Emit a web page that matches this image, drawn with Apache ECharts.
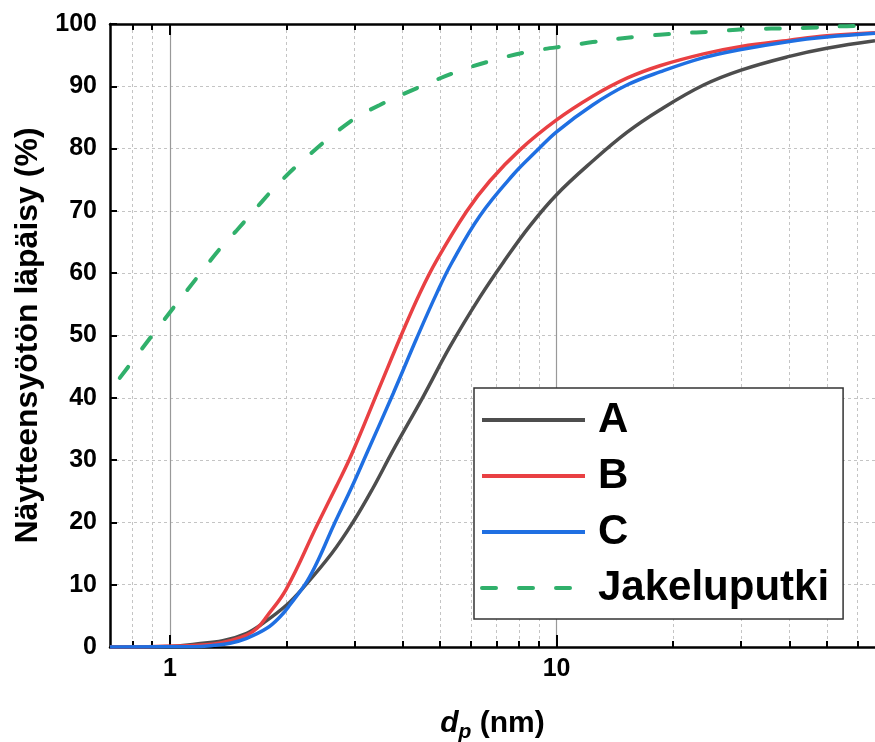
<!DOCTYPE html>
<html>
<head>
<meta charset="utf-8">
<script src="https://cdn.jsdelivr.net/npm/echarts@6/dist/echarts.min.js"></script>
<style>
  html, body { margin: 0; padding: 0; background: #fff; }
  #chart { width: 875px; height: 742px; }
</style>
</head>
<body>
<div id="chart"></div>
<script>
// Penetration curves: particle diameter d_p (nm) vs. sample-inlet penetration (%)
const seriesNames = ['A', 'B', 'C', 'Jakeluputki'];

const dpA   = [0.7, 1.0, 1.17, 1.37, 1.58, 1.74, 2.0, 2.21, 2.62, 2.98, 3.33, 3.78, 4.52, 5.3, 6.34, 7.35, 8.53, 10, 12.4, 15.2, 18.5, 24, 30, 40, 50, 66.6];
const passA = [0, 0.1, 0.5, 1.0, 2.2, 3.8, 6.7, 9.5, 15.0, 20.1, 25.2, 31.6, 40.2, 48.2, 56.2, 62.1, 67.6, 72.6, 78.0, 82.6, 86.2, 90.2, 92.6, 94.8, 96.1, 97.3];

const dpB   = [0.7, 1.06, 1.3, 1.43, 1.58, 1.68, 1.78, 2.0, 2.4, 2.7, 2.95, 3.49, 4.0, 4.43, 4.9, 5.85, 6.72, 8.04, 10, 12.4, 15.2, 18.5, 24, 30, 40, 50, 66.6];
const passB = [0, 0.15, 0.5, 1.0, 1.9, 3.0, 4.9, 9.3, 19.5, 25.9, 30.9, 41.8, 50.6, 56.8, 62.1, 69.9, 74.8, 79.8, 84.6, 88.4, 91.3, 93.3, 95.2, 96.4, 97.4, 98.1, 98.6];

const dpC   = [0.7, 1.15, 1.3, 1.43, 1.58, 1.78, 1.93, 2.04, 2.26, 2.42, 2.65, 2.95, 3.23, 3.78, 4.35, 4.9, 5.35, 6.33, 7.72, 8.87, 10, 12.4, 15.2, 18.5, 24, 30, 40, 50, 66.6];
const passC = [0, 0.05, 0.27, 0.6, 1.4, 3.0, 4.9, 6.7, 10.5, 14.0, 19.5, 25.6, 31.1, 40.7, 49.6, 56.8, 61.6, 69.2, 75.8, 79.6, 82.7, 87.0, 90.2, 92.3, 94.6, 95.9, 97.2, 97.9, 98.5];

const dpJ   = [0.742, 0.988, 1.2, 1.35, 1.49, 1.73, 1.87, 2.17, 2.92, 3.49, 4.43, 5.51, 6.79, 8.53, 11.0, 12.4, 16.4, 20.8, 25.4, 31.6, 40.7, 63, 66.6];
const passJ = [43.2, 53.3, 60.0, 64.0, 66.9, 71.5, 73.8, 77.7, 84.3, 87.0, 89.9, 92.3, 94.1, 95.6, 96.6, 97.1, 98.0, 98.5, 98.8, 99.2, 99.3, 99.7, 99.7];

// Axis ticks
const xMin = 0.7, xMax = 66.6;
const minorTicksX = [0.8, 0.9, 2, 3, 4, 5, 6, 7, 8, 9, 20, 30, 40, 50, 60];
const majorTicksX = [1, 10];

const colors = ['#4d4d4d', '#e94043', '#1f6fe2', '#30b06b'];
const FONT = '"Liberation Sans", Arial, sans-serif';
const gridBox = { left: 110, top: 24, right: 0, bottom: 95, outerBoundsMode: 'none', containLabel: false };

function pairs(xs, ys) { return xs.map((x, i) => [x, ys[i]]); }

function logAxis(gridIndex, position, extra) {
  return Object.assign({
    gridIndex: gridIndex, type: 'log', logBase: 10, min: xMin, max: xMax, position: position,
    axisLine: { show: false, onZero: false },
    axisTick: { show: false },
    axisLabel: { show: false },
    splitLine: { show: false },
    minorTick: { show: false },
    minorSplitLine: { show: false }
  }, extra);
}

const blackLine = { color: '#000', width: 2.5 };
const tickLine = { color: '#000', width: 2 };

const chart = echarts.init(document.getElementById('chart'));

const option = {
  animation: false,
  backgroundColor: '#fff',
  textStyle: { fontFamily: FONT },
  grid: [Object.assign({}, gridBox), Object.assign({}, gridBox)],
  xAxis: [
    logAxis(0, 'bottom', {
      axisLine: { show: true, onZero: false, lineStyle: blackLine },
      axisTick: { show: true, inside: true, length: 6, customValues: minorTicksX, lineStyle: tickLine },
      splitLine: { show: true, lineStyle: { color: '#c4c4c4', type: [3, 3], width: 1 } },
      name: '{d|d}{p|p}{n| (nm)}',
      nameLocation: 'middle',
      nameGap: 57,
      nameTextStyle: {
        color: '#000', fontFamily: FONT,
        rich: {
          d: { fontSize: 30, fontWeight: 'bold', fontStyle: 'italic', fontFamily: FONT, color: '#000' },
          p: { fontSize: 21, fontWeight: 'bold', fontStyle: 'italic', fontFamily: FONT, color: '#000', padding: [18, 0, 0, 0] },
          n: { fontSize: 30, fontWeight: 'bold', fontFamily: FONT, color: '#000' }
        }
      }
    }),
    logAxis(0, 'top', {
      axisLine: { show: true, onZero: false, lineStyle: blackLine },
      axisTick: { show: true, inside: true, length: 6, customValues: minorTicksX, lineStyle: tickLine }
    }),
    logAxis(1, 'bottom', {
      axisTick: { show: true, inside: true, length: 12, customValues: majorTicksX, lineStyle: tickLine },
      axisLabel: { show: true, customValues: majorTicksX, fontSize: 25, fontWeight: 'bold', color: '#000', fontFamily: FONT, margin: 10 },
      splitLine: { show: true, lineStyle: { color: '#999', width: 1.2 } }
    }),
    logAxis(1, 'top', {
      axisTick: { show: true, inside: true, length: 11, customValues: majorTicksX, lineStyle: tickLine }
    })
  ],
  yAxis: [
    {
      gridIndex: 0, type: 'value', min: 0, max: 100, interval: 10,
      axisLine: { show: true, onZero: false, lineStyle: blackLine },
      axisTick: { show: true, inside: true, length: 7, lineStyle: tickLine },
      axisLabel: { fontSize: 25, fontWeight: 'bold', color: '#000', fontFamily: FONT, margin: 13 },
      splitLine: { show: true, lineStyle: { color: '#c4c4c4', type: [3, 3], width: 1 } },
      name: 'Näytteensyötön läpäisy (%)',
      nameLocation: 'middle',
      nameGap: 60,
      nameTextStyle: { fontSize: 32, fontWeight: 'bold', color: '#000', fontFamily: FONT }
    },
    { gridIndex: 1, type: 'value', min: 0, max: 100, show: false }
  ],
  legend: {
    data: seriesNames,
    orient: 'vertical',
    left: 474, top: 388,
    itemWidth: 103, itemHeight: 20, itemGap: 10,
    padding: [9, 14, 8, 6],
    backgroundColor: '#fff',
    borderColor: '#333', borderWidth: 1.5, borderRadius: 0,
    itemStyle: { color: 'rgba(0,0,0,0)', borderWidth: 0, opacity: 0 },
    lineStyle: { width: 4 },
    textStyle: { fontSize: 42, fontWeight: 'bold', color: '#000', fontFamily: FONT, lineHeight: 46, padding: [0, 0, 0, 8] }
  },
  series: [
    { name: 'A', data: pairs(dpA, passA), color: colors[0], lineStyle: { width: 3.5, color: colors[0] } },
    { name: 'B', data: pairs(dpB, passB), color: colors[1], lineStyle: { width: 3.5, color: colors[1] } },
    { name: 'C', data: pairs(dpC, passC), color: colors[2], lineStyle: { width: 3.5, color: colors[2] } },
    { name: 'Jakeluputki', data: pairs(dpJ, passJ), color: colors[3],
      lineStyle: { width: 4, color: colors[3], type: [14, 23], cap: 'round' } }
  ].map(s => Object.assign({
    type: 'line', xAxisIndex: 0, yAxisIndex: 0,
    symbol: 'none', showSymbol: false,
    smooth: 0.4
  }, s))
};

chart.setOption(option);
</script>
</body>
</html>
